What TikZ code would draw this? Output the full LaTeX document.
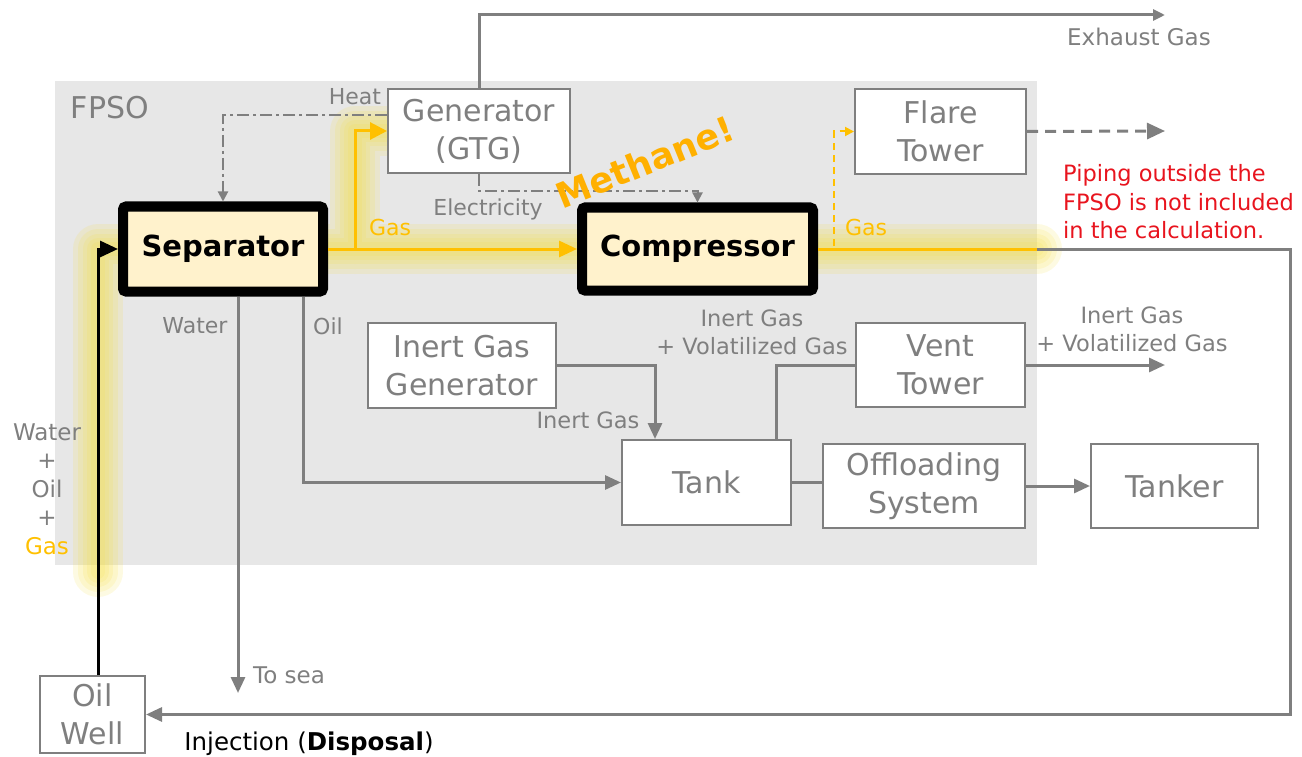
\documentclass[tikz,border=0pt]{standalone}
\usepackage{fontspec}
\setmainfont{DejaVu Sans}
\usepackage{tikz}
\usetikzlibrary{positioning,arrows.meta,backgrounds}

\definecolor{lgray}{HTML}{7F7F7F}
\definecolor{fpsobg}{HTML}{E7E7E7}
\definecolor{gasy}{HTML}{FFC000}
\definecolor{glowy}{HTML}{F5E04A}
\definecolor{cream}{HTML}{FFF2CC}
\definecolor{warn}{HTML}{E8141E}
\definecolor{meth}{HTML}{FFB000}

\newcommand\boxfont{\fontsize{30}{38}\selectfont}
\newcommand\keyfont{\fontsize{29}{34}\selectfont\bfseries}
\newcommand\lblfont{\fontsize{22}{28.5}\selectfont}
\newcommand\twofont{\fontsize{22.5}{28}\selectfont}
\newcommand\methfont{\fontsize{35}{40}\selectfont\bfseries}

\begin{document}
\begin{tikzpicture}[x=1pt, y=-1pt,
    box/.style = {draw=lgray, line width=2pt, fill=white, text=lgray, font=\boxfont, align=center, inner sep=0pt},
    key/.style = {box, draw=black, line width=10pt, fill=cream, text=black, font=\keyfont, rounded corners=3pt},
    lbl/.style = {text=lgray, font=\lblfont, inner sep=0pt, align=center},
    pipe/.style = {draw=lgray, line width=3pt},
    gas/.style = {draw=gasy, line width=3pt},
    ctrl/.style = {draw=lgray, line width=2pt, dash pattern=on 12pt off 4pt on 3pt off 4pt},
    glow/.style = {draw=glowy, line cap=round, line join=round, opacity=0.16},
    > = {Triangle[length=16pt, width=14pt]},
    small/.style = {-{Triangle[length=10pt, width=10pt]}}
]
\useasboundingbox (0,0) rectangle (1302,757);
\begin{scope}[on background layer]
\fill[fpsobg] (55,81) rectangle (1037,565);
\end{scope}
\node (fpso) [lbl, font=\fontsize{30}{34}\selectfont] at (110,108) {FPSO};

\node (gen) [box, minimum width=182pt, minimum height=84pt] at (479,131) {Generator\\(GTG)};
\node (sep) [key, minimum width=200pt, minimum height=85pt] at (223,249) {Separator};
\node (comp) [key, minimum width=231pt, minimum height=83pt] at (697.5,249) {Compressor};
\node (flare) [box, minimum width=171pt, minimum height=85pt] at (940.5,131.5) {Flare\\Tower};
\node (igg) [box, minimum width=188pt, minimum height=85pt] at (462,365.5) {Inert Gas\\Generator};
\node (tank) [box, minimum width=169pt, minimum height=85pt] at (706.5,482.5) {Tank};
\node (vent) [box, minimum width=169pt, minimum height=84pt] at (940.5,365) {Vent\\Tower};
\node (off) [box, minimum width=202pt, minimum height=84pt] at (924,486) {Offloading\\System};
\node (tanker) [box, minimum width=167pt, minimum height=84pt] at (1174.5,486) {Tanker};
\node (well) [box, minimum width=105pt, minimum height=77pt] at (92.5,714.5) {Oil\\Well};

\coordinate (exh) at (1165,15);
\coordinate (br) at (355,249);
\coordinate (edge) at (1037,249);
\coordinate (rcorner) at (1290,249);
\coordinate (fl) at (834,246);
\coordinate (flout) at (1165,131);
\coordinate (ventout) at (1165,365);
\coordinate (tosea) at (238,693);
\coordinate (glowlow) at (98,572);

\begin{scope}[on background layer]
\draw[glow, line width=50pt] (glowlow) |- (sep.west) -- (edge) (br) |- (gen.west);
\draw[glow, line width=40pt] (glowlow) |- (sep.west) -- (edge) (br) |- (gen.west);
\draw[glow, line width=30pt] (glowlow) |- (sep.west) -- (edge) (br) |- (gen.west);
\draw[glow, line width=22pt] (glowlow) |- (sep.west) -- (edge) (br) |- (gen.west);
\draw[glow, line width=14pt] (glowlow) |- (sep.west) -- (edge) (br) |- (gen.west);
\end{scope}

\draw[pipe, -{Triangle[length=12pt, width=11pt]}] (gen.north) |- (exh);
\draw[ctrl, small] ([yshift=16pt]gen.west) -| (sep.north);
\draw[ctrl, small] (gen.south) -- ++(0,17) -| (comp.north);
\draw[gas, -{Triangle[length=18pt, width=16pt]}] (sep.east) -- (comp.west);
\draw[gas, -{Triangle[length=17pt, width=17pt]}] (br) |- (gen.west);
\draw[gas] (comp.east) -- (edge);
\draw[gas, line width=2pt, dash pattern=on 7pt off 5pt, -{Triangle[length=9pt, width=9pt]}] (fl) |- (flare.west);
\draw[pipe, dash pattern=on 11pt off 7pt, -{Triangle[length=18pt, width=16pt]}] (flare.east) -- (flout);
\draw[pipe, ->] (edge) -- (rcorner) |- (well.east);
\draw[pipe, ->] ([xshift=15pt]sep.south) -- (tosea);
\draw[pipe, ->] ([xshift=80pt]sep.south) |- (tank.west);
\draw[pipe, ->] (igg.east) -| ([xshift=-51.5pt]tank.north);
\draw[pipe] ([xshift=69.5pt]tank.north) |- (vent.west);
\draw[pipe, ->] (vent.east) -- (ventout);
\draw[pipe] (tank.east) -- (tank.east -| off.west);
\draw[pipe, ->] (off.east) -- (tanker.west);
\draw[line width=3pt, -{Triangle[length=18pt, width=16pt]}] ([xshift=5.5pt]well.north) |- (sep.west);

\node (exhlbl) [lbl, font=\fontsize{23}{28}\selectfont] at (1139,37) {Exhaust Gas};
\node (heat) [lbl] at (355,97) {Heat};
\node (elec) [lbl] at (488,209) {Electricity};
\node (gas1) [lbl, text=gasy] at (390,227) {Gas};
\node (gas2) [lbl, text=gasy] at (866,227) {Gas};
\node (water) [lbl] at (195,326) {Water};
\node (oil) [lbl] at (328,326) {Oil};
\node (sea) [lbl, anchor=west, font=\fontsize{23}{28}\selectfont] at (253,675) {To sea};
\node (inert) [lbl, font=\twofont] at (588,420) {Inert Gas};
\node (tankgas) [lbl, font=\twofont] at (752,332) {Inert Gas\\+ Volatilized Gas};
\node (ventgas) [lbl, font=\twofont] at (1132,329) {Inert Gas\\+ Volatilized Gas};
\node (feed) [lbl, font=\fontsize{23}{28.5}\selectfont] at (47,489) {Water\\+\\Oil\\+\\\textcolor{gasy}{Gas}};
\node (note) [lbl, text=warn, align=left, anchor=west, font=\fontsize{22.5}{28.5}\selectfont] at (1063,202) {Piping outside the\\FPSO is not included\\in the calculation.};
\node (inj) [lbl, text=black, font=\fontsize{24.5}{28}\selectfont] at (309,744) {Injection (\textbf{Disposal})};
\node (methane) [text=meth, font=\methfont, rotate=22] at (645,162) {Methane!};
\end{tikzpicture}
\end{document}
